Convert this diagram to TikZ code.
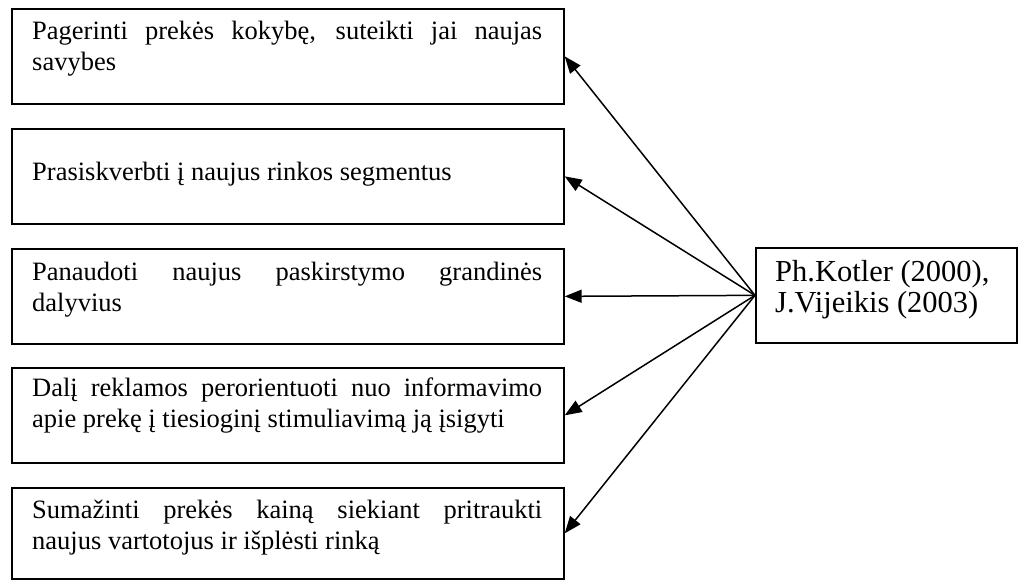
\documentclass[tikz,border=0pt]{standalone}
\usepackage{fontspec}
\setmainfont{Liberation Serif}
\usetikzlibrary{arrows.meta}
\begin{document}
\begin{tikzpicture}[x=1pt,y=-1pt,
  box/.style={draw, line width=1.7pt, inner sep=0pt, anchor=north west},
  goalbox/.style={box, minimum width=552pt, minimum height=95pt},
  txt/.style={anchor=north west, inner sep=0pt, text width=510pt, align=justify,
              font=\fontsize{26.5}{30.5}\selectfont},
  arr/.style={line width=1.5pt, -{Triangle[length=17pt,width=13pt]}}]
\useasboundingbox (0,0) rectangle (1018,580);

% measures on the left
\node[goalbox] (b1) at (11,8) {};
\node[goalbox] (b2) at (11,128) {};
\node[goalbox] (b3) at (11,248) {};
\node[goalbox] (b4) at (11,367) {};
\node[goalbox, minimum height=91pt] (b5) at (11,487) {};

\node[txt] (t1) at (32,18) {\strut Pagerinti prekės kokybę, suteikti jai naujas\linebreak savybes};
\node[txt] (t2) at (32,159) {\strut Prasiskverbti į naujus rinkos segmentus};
\node[txt] (t3) at (32,259) {\strut Panaudoti naujus paskirstymo grandinės\linebreak dalyvius};
\node[txt] (t4) at (32,375) {\strut Dalį reklamos perorientuoti nuo informavimo\linebreak apie prekę į tiesioginį stimuliavimą ją įsigyti};
\node[txt] (t5) at (32,497) {\strut Sumažinti prekės kainą siekiant pritraukti\linebreak naujus vartotojus ir išplėsti rinką};

% source box on the right
\node[box, minimum width=261pt, minimum height=95pt] (kot) at (755,247) {};
\node[anchor=north west, inner sep=0pt, align=left, font=\fontsize{30.5}{31}\selectfont]
  (kt) at (775,260) {\strut Ph.Kotler (2000),\\J.Vijeikis (2003)};

% connectors
\foreach \b in {b1,b2,b3,b4,b5}
  \draw[arr] (kot.west) -- (\b.east);
\end{tikzpicture}
\end{document}
